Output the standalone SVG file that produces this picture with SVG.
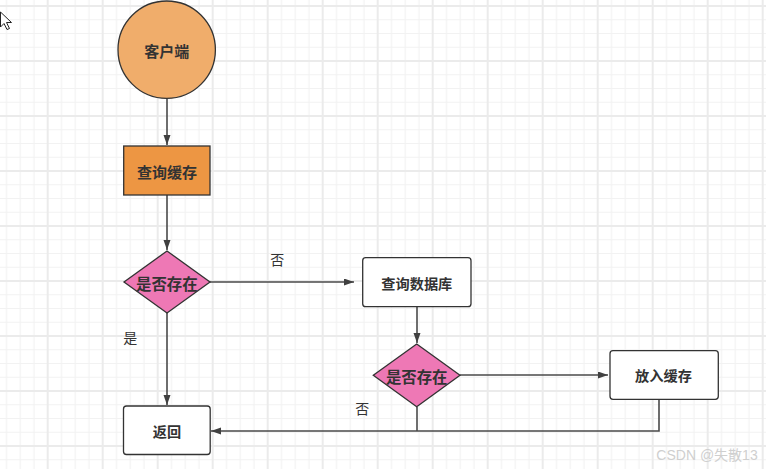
<svg xmlns="http://www.w3.org/2000/svg" width="766" height="469" viewBox="0 0 766 469">
  <defs>
    <pattern id="grid" patternUnits="userSpaceOnUse" x="47.7" y="6" width="55" height="55">
      <path d="M13.75 0V55M27.5 0V55M41.25 0V55M0 13.75H55M0 27.5H55M0 41.25H55" stroke="#f2f2f2" stroke-width="1.2" fill="none"/>
      <path d="M0 0V55M55 0V55M0 0H55M0 55H55" stroke="#ebebeb" stroke-width="2" fill="none"/>
    </pattern>
    <marker id="arr" markerUnits="userSpaceOnUse" markerWidth="10" markerHeight="8" refX="10" refY="3.5" orient="auto">
      <path d="M0,0 L10,3.5 L0,7 z" fill="#404040"/>
    </marker>
    <style>
      .node { stroke: #333333; stroke-width: 1.3; }
      .t { font-family: "Noto Sans CJK SC", "Noto Sans", sans-serif; fill: #333333; text-anchor: middle; dominant-baseline: central; }
      .b { font-weight: bold; }
      .lbl { font-family: "Noto Sans CJK SC", "Noto Sans", sans-serif; fill: #333333; font-size: 14px; text-anchor: middle; dominant-baseline: central; }
      .conn { stroke: #4a4a4a; stroke-width: 1.6; fill: none; }
    </style>
  </defs>
  <rect width="766" height="469" fill="#ffffff"/>
  <rect width="766" height="469" fill="url(#grid)"/>

  <path d="M0.5 12 L0.5 27 L4 23.5 L7 29.5 L9.5 28.5 L6.5 22.5 L11.5 22.5 Z" fill="#ffffff" stroke="#222222" stroke-width="1"/>

  <g id="connectors">
    <path class="conn" d="M167 99V145" marker-end="url(#arr)"/>
    <path class="conn" d="M167 195V250" marker-end="url(#arr)"/>
    <path class="conn" d="M210 282H354" marker-end="url(#arr)"/>
    <path class="conn" d="M167 313V405" marker-end="url(#arr)"/>
    <path class="conn" d="M417 307V343" marker-end="url(#arr)"/>
    <path class="conn" d="M460 375H608" marker-end="url(#arr)"/>
    <path class="conn" d="M417 407V431"/>
    <path class="conn" d="M659 399V431H211" marker-end="url(#arr)"/>
  </g>

  <g id="client">
    <circle class="node" cx="166.7" cy="49.7" r="48.7" fill="#f0ad6b"/>
    <text class="t b" x="166.7" y="50" font-size="15">客户端</text>
  </g>
  <g id="queryCache">
    <rect class="node" x="123.7" y="146" width="86.3" height="49" fill="#ed9643"/>
    <text class="t b" x="167" y="171.5" font-size="15">查询缓存</text>
  </g>
  <g id="exists1">
    <polygon class="node" points="167,251 210,282 167,313 124,282" fill="#ee78b5"/>
    <text class="t b" x="166.8" y="283" font-size="15.4">是否存在</text>
  </g>
  <g id="queryDb">
    <rect class="node" x="362.7" y="257.7" width="108.3" height="49" rx="3" fill="#ffffff"/>
    <text class="t b" x="416.8" y="283" font-size="14.2">查询数据库</text>
  </g>
  <g id="exists2">
    <polygon class="node" points="416.7,344 460,375.3 416.7,406.7 373.3,375.3" fill="#ee78b5"/>
    <text class="t b" x="416.7" y="376" font-size="15.4">是否存在</text>
  </g>
  <g id="putCache">
    <rect class="node" x="610" y="350.7" width="108.3" height="48.6" rx="3" fill="#ffffff"/>
    <text class="t b" x="663.5" y="375" font-size="14.2">放入缓存</text>
  </g>
  <g id="return">
    <rect class="node" x="123.5" y="406" width="86.7" height="48.5" rx="3" fill="#ffffff"/>
    <text class="t b" x="167" y="431" font-size="14.2">返回</text>
  </g>

  <text class="lbl" x="277.3" y="259.3">否</text>
  <text class="lbl" x="130.3" y="336.5">是</text>
  <text class="lbl" x="362.2" y="408">否</text>

  <text x="707" y="455" font-family="'Liberation Sans', 'Noto Sans CJK SC', sans-serif" font-size="14" fill="#cfcfcf" text-anchor="middle" dominant-baseline="central">CSDN @失散13</text>
</svg>
